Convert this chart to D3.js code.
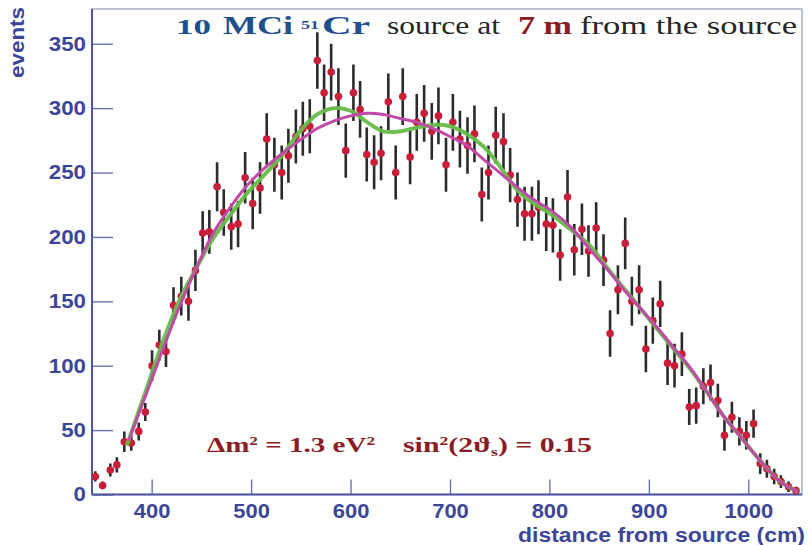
<!DOCTYPE html>
<html>
<head>
<meta charset="utf-8">
<script src="https://cdn.jsdelivr.net/npm/d3@7"></script>
<style>
  html, body { margin: 0; padding: 0; background: #ffffff; }
  svg { display: block; }
</style>
</head>
<body>
<svg id="chart" width="808" height="545"></svg>
<script>
// ---------------- data ----------------
const distances = [343.3, 350.7, 358.4, 365.0, 372.5, 379.5, 387.0, 393.6, 400.4, 407.7,
  414.4, 422.0, 429.8, 437.0, 444.0, 451.3, 458.0, 465.8, 472.5, 480.0,
  486.9, 494.0, 501.6, 509.0, 515.7, 523.4, 530.8, 537.5, 545.0, 552.0,
  559.0, 566.6, 573.4, 580.5, 587.8, 595.2, 602.9, 609.6, 616.3, 623.7,
  630.7, 638.0, 645.4, 652.5, 659.9, 666.6, 674.0, 681.7, 688.4, 696.0,
  702.9, 710.0, 717.6, 724.6, 732.0, 738.7, 746.0, 753.8, 760.5, 767.9,
  775.0, 782.4, 789.0, 796.8, 803.5, 810.8, 818.2, 825.0, 832.7, 839.3,
  847.0, 854.4, 861.0, 868.9, 876.2, 882.9, 890.2, 897.0, 904.0, 911.4,
  918.8, 925.8, 933.2, 940.6, 947.6, 954.8, 962.0, 969.4, 976.0, 983.5,
  991.0, 998.0, 1005.3, 1012.0, 1018.7, 1026.0, 1032.8, 1040.5, 1048.0];

const events = [14, 7, 19, 23, 41, 40, 49, 64, 100, 116,
  111, 147, 154, 150, 174, 203, 204, 239, 219, 208,
  210, 246, 226, 238, 276, 256, 250, 263, 278, 284,
  286, 337, 312, 328, 309, 267, 312, 299, 264, 258,
  265, 305, 250, 309, 262, 289, 296, 282, 294, 256,
  289, 276, 271, 280, 233, 250, 279, 274, 248, 229,
  218, 218, 223, 210, 209, 186, 231, 190, 206, 189,
  207, 182, 125, 159, 195, 150, 159, 113, 135, 148,
  102, 100, 109, 68, 69, 84, 87, 73, 46, 60,
  49, 46, 55, 24, 20, 14, 10, 6, 3];

const errors = [4, 3, 5, 6, 8, 6, 7, 7, 12, 12,
  12, 14, 15, 15, 16, 17, 17, 19, 18, 18,
  18, 20, 20, 20, 20, 21, 21, 21, 21, 21,
  21, 22, 22, 22, 22, 21, 22, 22, 21, 21,
  21, 22, 21, 22, 21, 22, 22, 22, 22, 21,
  22, 22, 22, 22, 21, 21, 22, 22, 21, 21,
  21, 21, 21, 21, 21, 20, 21, 20, 20, 20,
  20, 20, 18, 19, 20, 19, 19, 18, 18, 18,
  17, 17, 17, 14, 14, 14, 14, 13, 12, 12,
  11, 11, 11, 8, 7, 6, 5, 4, 3];

// no-oscillation expectation (magenta)
const noOscX = [377, 393, 410, 428, 445, 462, 479, 496, 513, 530, 549, 566, 583, 600, 617, 633, 650, 667, 684, 700,
  717, 734, 750, 767, 784, 801, 821, 841, 858, 875, 891, 908, 925, 942, 958, 975, 992, 1009, 1029, 1040, 1050];
const noOscY = [42, 75, 110, 146, 176, 203, 223, 240, 253, 264, 275, 284, 290, 294, 296, 295, 292, 289, 284, 278,
  271, 260, 250, 239, 229, 221, 208, 190, 175, 159, 145, 130, 114, 98, 80, 61, 45, 29, 12, 6, 2];

// oscillation hypothesis (green)
const oscX = [375, 393, 410, 428, 445, 462, 479, 496, 513, 530, 549, 566, 583, 600, 617, 633, 650, 667, 684, 700,
  717, 734, 750, 767, 784, 801, 821, 841, 858, 875, 891, 908, 925, 942, 958, 975, 992, 1009, 1029, 1040, 1050];
const oscY = [38, 78, 116, 151, 176, 199, 217, 234, 248, 262, 282, 295, 300, 298, 289, 282, 282, 285, 287, 286,
  280, 270, 255, 237, 226, 218, 206, 193, 176, 160, 145, 129, 113, 97, 80, 61, 45, 29, 12, 6, 2];

const yMajorTicks = [0, 50, 100, 150, 200, 250, 300, 350];
const xMajorTicks = [400, 500, 600, 700, 800, 900, 1000];

// ---------------- layout ----------------
const svg = d3.select("#chart");
const plot = { left: 92, right: 802, top: 9, bottom: 494.5 };
const x = d3.scaleLinear().domain([340, 1054]).range([plot.left, plot.right]);
const y = d3.scaleLinear().domain([0, 377]).range([plot.bottom, plot.top]);

const axisBlue = "#3c4699";
const frameCol = "#a7acc8";

svg.append("rect").attr("width", 808).attr("height", 545).attr("fill", "#ffffff");

// frame
svg.append("rect")
  .attr("x", plot.left).attr("y", plot.top)
  .attr("width", plot.right - plot.left).attr("height", plot.bottom - plot.top)
  .attr("fill", "none").attr("stroke", frameCol).attr("stroke-width", 1.5);

// ---------------- axes ----------------
const yMinor = d3.range(0, 378, 10).filter(v => v % 50 !== 0);
const xMinor = d3.range(340, 1055, 20).filter(v => v % 100 !== 0);

const gy = svg.append("g").attr("transform", `translate(${plot.left},0)`);
gy.call(d3.axisLeft(y).tickValues(yMinor).tickSize(-10).tickFormat(""));
gy.call(d3.axisLeft(y).tickValues(yMajorTicks).tickSize(-21).tickPadding(6).tickFormat(d3.format("d")));
gy.selectAll(".domain").remove();
gy.selectAll("line").attr("stroke", "#6a73b0").attr("stroke-width", 1.4);
gy.selectAll("text")
  .attr("fill", axisBlue)
  .style("font-family", "'Liberation Sans', Arial, sans-serif")
  .style("font-weight", "bold")
  .style("font-size", "20px")
  .attr("lengthAdjust", "spacingAndGlyphs")
  .attr("textLength", function(d) { return String(d).length * 12.4; });

const gx = svg.append("g").attr("transform", `translate(0,${plot.bottom})`);
gx.call(d3.axisBottom(x).tickValues(xMinor).tickSize(-7).tickFormat(""));
gx.call(d3.axisBottom(x).tickValues(xMajorTicks).tickSize(-15).tickPadding(9).tickFormat(d3.format("d")));
gx.selectAll(".domain").remove();
gx.selectAll("line").attr("stroke", "#6a73b0").attr("stroke-width", 1.4);
gx.selectAll("text")
  .attr("fill", axisBlue)
  .style("font-family", "'Liberation Sans', Arial, sans-serif")
  .style("font-weight", "bold")
  .style("font-size", "20px")
  .attr("lengthAdjust", "spacingAndGlyphs")
  .attr("textLength", function(d) { return String(d).length * 12.2; });

// axis lines (left and bottom, stronger blue)
svg.append("line").attr("x1", plot.left).attr("x2", plot.left).attr("y1", plot.top).attr("y2", plot.bottom)
  .attr("stroke", "#4b55a3").attr("stroke-width", 2);
svg.append("line").attr("x1", plot.left).attr("x2", plot.right).attr("y1", plot.bottom).attr("y2", plot.bottom)
  .attr("stroke", "#4b55a3").attr("stroke-width", 2);

// axis titles
svg.append("text")
  .attr("transform", `translate(24,7) rotate(-90)`)
  .attr("text-anchor", "end")
  .attr("fill", axisBlue)
  .style("font-family", "'Liberation Sans', Arial, sans-serif")
  .style("font-weight", "bold").style("font-size", "20px")
  .attr("textLength", 71).attr("lengthAdjust", "spacingAndGlyphs")
  .text("events");

svg.append("text")
  .attr("x", 518).attr("y", 542)
  .attr("fill", axisBlue)
  .style("font-family", "'Liberation Sans', Arial, sans-serif")
  .style("font-weight", "bold").style("font-size", "20px")
  .attr("textLength", 287).attr("lengthAdjust", "spacingAndGlyphs")
  .text("distance from source (cm)");

// ---------------- data marks ----------------
const pts = distances.map((d, i) => ({ x: d, y: events[i], e: errors[i] }));
const clip = svg.append("clipPath").attr("id", "clip").append("rect")
  .attr("x", plot.left).attr("y", plot.top).attr("width", plot.right - plot.left).attr("height", plot.bottom - plot.top);

const marks = svg.append("g").attr("clip-path", "url(#clip)");

marks.append("g").selectAll("line").data(pts).join("line")
  .attr("x1", d => x(d.x)).attr("x2", d => x(d.x))
  .attr("y1", d => y(d.y + d.e)).attr("y2", d => y(Math.max(0, d.y - d.e)))
  .attr("stroke", "#2b2b2b").attr("stroke-width", 2.6);

marks.append("g").selectAll("circle").data(pts).join("circle")
  .attr("cx", d => x(d.x)).attr("cy", d => y(d.y)).attr("r", 3.8)
  .attr("fill", "#c81e3a");

const line = d3.line().curve(d3.curveCatmullRom.alpha(0.5)).x(d => x(d[0])).y(d => y(d[1]));

marks.append("path").datum(oscX.map((v, i) => [v, oscY[i]]))
  .attr("d", line).attr("fill", "none")
  .attr("stroke", "#67bb4a").attr("stroke-width", 4).attr("stroke-opacity", 0.95);

marks.append("path").datum(noOscX.map((v, i) => [v, noOscY[i]]))
  .attr("d", line).attr("fill", "none")
  .attr("stroke", "#c04aa8").attr("stroke-width", 3);

// ---------------- title ----------------
const serif = "'Liberation Serif', 'DejaVu Serif', Georgia, serif";
const blue = "#1f4f8c", red = "#8c1c24", dark = "#262626";
function seg(txt, x0, w, opts) {
  const t = svg.append("text").attr("x", x0).attr("y", opts.y || 34)
    .attr("fill", opts.color).style("font-family", serif)
    .style("font-weight", opts.bold ? "bold" : "normal")
    .style("font-size", (opts.size || 25) + "px")
    .attr("textLength", w).attr("lengthAdjust", "spacingAndGlyphs")
    .text(txt);
  return t;
}
seg("10", 176, 35, { color: blue, bold: true, size: 22 });
seg("MCi", 223, 70, { color: blue, bold: true, size: 26 });
seg("51", 301, 18, { color: blue, bold: true, size: 13, y: 29 });
seg("Cr", 322, 48, { color: blue, bold: true, size: 26 });
seg("source at", 387, 113, { color: dark, size: 25 });
seg("7 m", 518, 54, { color: red, bold: true, size: 26 });
seg("from the source", 580, 217, { color: dark, size: 25 });

// ---------------- annotations ----------------
function ann(x0, w, parts) {
  const t = svg.append("text").attr("x", x0).attr("y", 452)
    .attr("fill", red).style("font-family", serif)
    .style("font-weight", "bold").style("font-size", "22px")
    .attr("textLength", w).attr("lengthAdjust", "spacingAndGlyphs");
  parts.forEach(p => {
    const ts = t.append("tspan").text(p.t);
    if (p.dy) ts.attr("dy", p.dy);
    if (p.size) ts.style("font-size", p.size);
  });
}
ann(207, 168, [
  { t: "Δm" }, { t: "2", dy: -7, size: "13px" }, { t: " = 1.3 eV", dy: 7 }, { t: "2", dy: -7, size: "13px" }
]);
ann(403, 189, [
  { t: "sin" }, { t: "2", dy: -7, size: "13px" }, { t: "(2ϑ", dy: 7 }, { t: "s", dy: 4, size: "13px" }, { t: ") = 0.15", dy: -4 }
]);
</script>
</body>
</html>
